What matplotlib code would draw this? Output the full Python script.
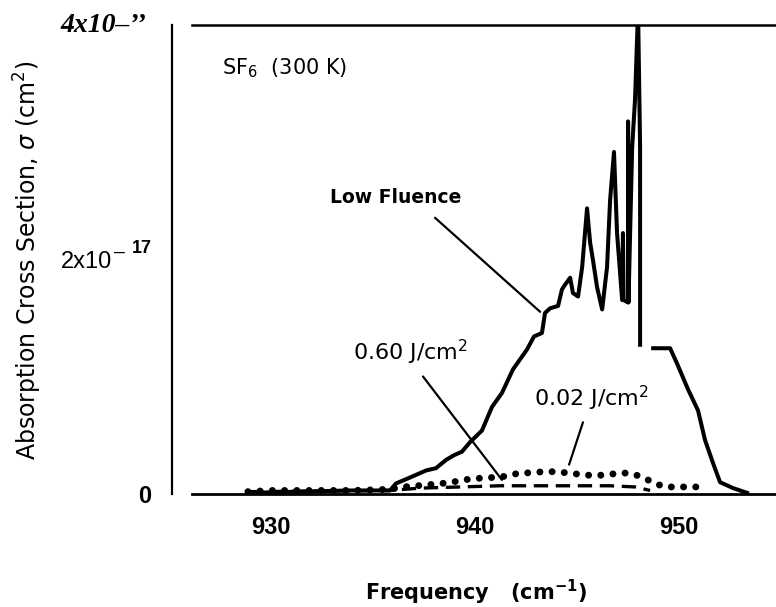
import numpy as np
import matplotlib
matplotlib.use("Agg")
import matplotlib.pyplot as plt

plt.rcParams["font.family"] = ["DejaVu Sans"]
plt.rcParams["mathtext.default"] = "regular"

# frequency (cm^-1) and cross section (units of 1e-17 cm^2)
low_freq = [928.87, 931.42, 933.87, 935.83, 936.13, 936.81, 937.60, 938.09, 938.58,
            938.97, 939.36, 939.75, 940.34, 940.83, 941.32, 941.86, 942.55, 942.89,
            943.28, 943.43, 943.68, 944.07, 944.26, 944.41, 944.66, 944.80, 945.05,
            945.25, 945.49, 945.64, 945.78, 945.98, 946.23, 946.47, 946.62, 946.81,
            946.96, 947.21, 947.25, 947.28, 947.50, 947.50, 947.52, 947.70, 947.84,
            947.99, 948.09, 948.09, np.nan, 948.73, 949.56, 949.90, 950.44, 950.93,
            951.27, 951.67, 952.01, 952.65, 953.33]
low_sigma = [0.01, 0.02, 0.03, 0.03, 0.09, 0.14, 0.20, 0.22, 0.29,
             0.33, 0.36, 0.44, 0.54, 0.74, 0.86, 1.06, 1.23, 1.34,
             1.37, 1.54, 1.58, 1.60, 1.74, 1.78, 1.84, 1.71, 1.68,
             1.93, 2.43, 2.14, 1.99, 1.76, 1.57, 1.93, 2.50, 2.91,
             2.22, 1.65, 2.22, 1.65, 1.63, 3.17, 1.63, 2.95, 3.35,
             4.12, 2.95, 1.27, np.nan, 1.24, 1.24, 1.11, 0.89, 0.71,
             0.46, 0.26, 0.10, 0.05, 0.01]

f002_freq = [928.87, 930.0, 932.0, 934.0, 935.8, 936.47, 937.16, 937.79, 938.38,
             938.87, 939.41, 940.00, 940.59, 941.13, 941.72, 942.21, 942.79, 943.33,
             943.92, 944.51, 945.00, 945.54, 946.27, 946.72, 947.25, 947.75, 948.24,
             948.82, 949.31, 949.90, 950.44, 950.93]
f002_sigma = [0.02, 0.03, 0.03, 0.03, 0.04, 0.06, 0.07, 0.08, 0.09,
              0.10, 0.12, 0.13, 0.14, 0.14, 0.16, 0.18, 0.18, 0.19,
              0.19, 0.18, 0.17, 0.16, 0.16, 0.17, 0.18, 0.17, 0.14,
              0.09, 0.06, 0.06, 0.06, 0.06]

f060_freq = [928.87, 935.83, 937.30, 939.26, 941.23, 944.17, 946.62, 947.84, 948.58]
f060_sigma = [0.02, 0.03, 0.05, 0.06, 0.07, 0.07, 0.07, 0.06, 0.03]

xticks = [930, 940, 950]

fig = plt.figure(figsize=(7.76, 6.07), dpi=100)
ax = fig.add_axes([192 / 776, 1 - 494 / 607, 584 / 776, 469 / 607])

ax.plot(low_freq, low_sigma, color="black", lw=2.9, solid_joinstyle="round")
ax.plot(f002_freq, f002_sigma, color="black", lw=5, ls=(0, (0.01, 1.75)),
        dash_capstyle="round")
ax.plot(f060_freq, f060_sigma, color="black", lw=2.4, ls=(0, (4.3, 2.3)))

ax.set_xlim(926.13, 954.75)
ax.set_ylim(0, 3.99)

ax.spines["right"].set_visible(False)
ax.spines["left"].set_position(("outward", 14.4))
ax.spines["left"].set_linewidth(1.6)
ax.spines["top"].set_linewidth(1.8)
ax.spines["bottom"].set_linewidth(2.0)

ax.set_xticks(xticks)
ax.set_xticklabels([str(t) for t in xticks], fontfamily="Liberation Sans",
                   fontweight="bold", fontsize=17)
ax.set_yticks([0])
ax.set_yticklabels(["0"], fontfamily="Liberation Sans", fontweight="bold", fontsize=17)
ax.tick_params(axis="x", length=0, pad=16)
ax.tick_params(axis="y", length=0, pad=15)

# odd-looking y labels of the scan
ytr = ax.get_yaxis_transform()
ax.text(-0.137, 1.97, "2x10", transform=ytr, ha="right", va="center",
        fontfamily="Liberation Sans", fontsize=17)
ax.text(-0.125, 2.06, "\u2013", transform=ytr, ha="center", va="center",
        fontfamily="Liberation Sans", fontsize=14)
ax.text(-0.103, 2.09, "17", transform=ytr, ha="left", va="center",
        fontfamily="Liberation Sans", fontweight="bold", fontsize=13)
ax.text(-0.226, 3.99, "4x10\u2013\u2019\u2019", transform=ytr, ha="left", va="center",
        fontfamily="Liberation Serif", fontweight="bold", fontstyle="italic",
        fontsize=20, clip_on=False)

# labels inside the plot
ax.text(927.60, 3.57, "SF$_6$  (300 K)", ha="left", va="baseline", fontsize=15)
ax.text(936.13, 2.52, "Low Fluence", ha="center", va="center", fontsize=13.5,
        fontweight="bold")
ax.text(934.02, 1.14, "0.60 J/cm$^2$", ha="left", va="baseline", fontsize=16)
ax.text(942.89, 0.75, "0.02 J/cm$^2$", ha="left", va="baseline", fontsize=16)

line = dict(arrowstyle="-", color="black", lw=1.6, shrinkA=0, shrinkB=0)
ax.annotate("", xy=(943.19, 1.55), xytext=(938.04, 2.35), arrowprops=line)
ax.annotate("", xy=(941.32, 0.12), xytext=(937.45, 1.00), arrowprops=line)
ax.annotate("", xy=(944.61, 0.25), xytext=(945.29, 0.61), arrowprops=line)

fig.text(28 / 776, 1 - 260 / 607, "Absorption Cross Section, $\\mathit{\\sigma}$ (cm$^2$)",
         rotation=90, ha="center", va="center", fontsize=17)
fig.text(476 / 776, 1 - 592 / 607, "Frequency   (cm$^{-1}$)", ha="center", va="center",
         fontsize=15, fontweight="bold")

fig.savefig("out.png", dpi=100)
